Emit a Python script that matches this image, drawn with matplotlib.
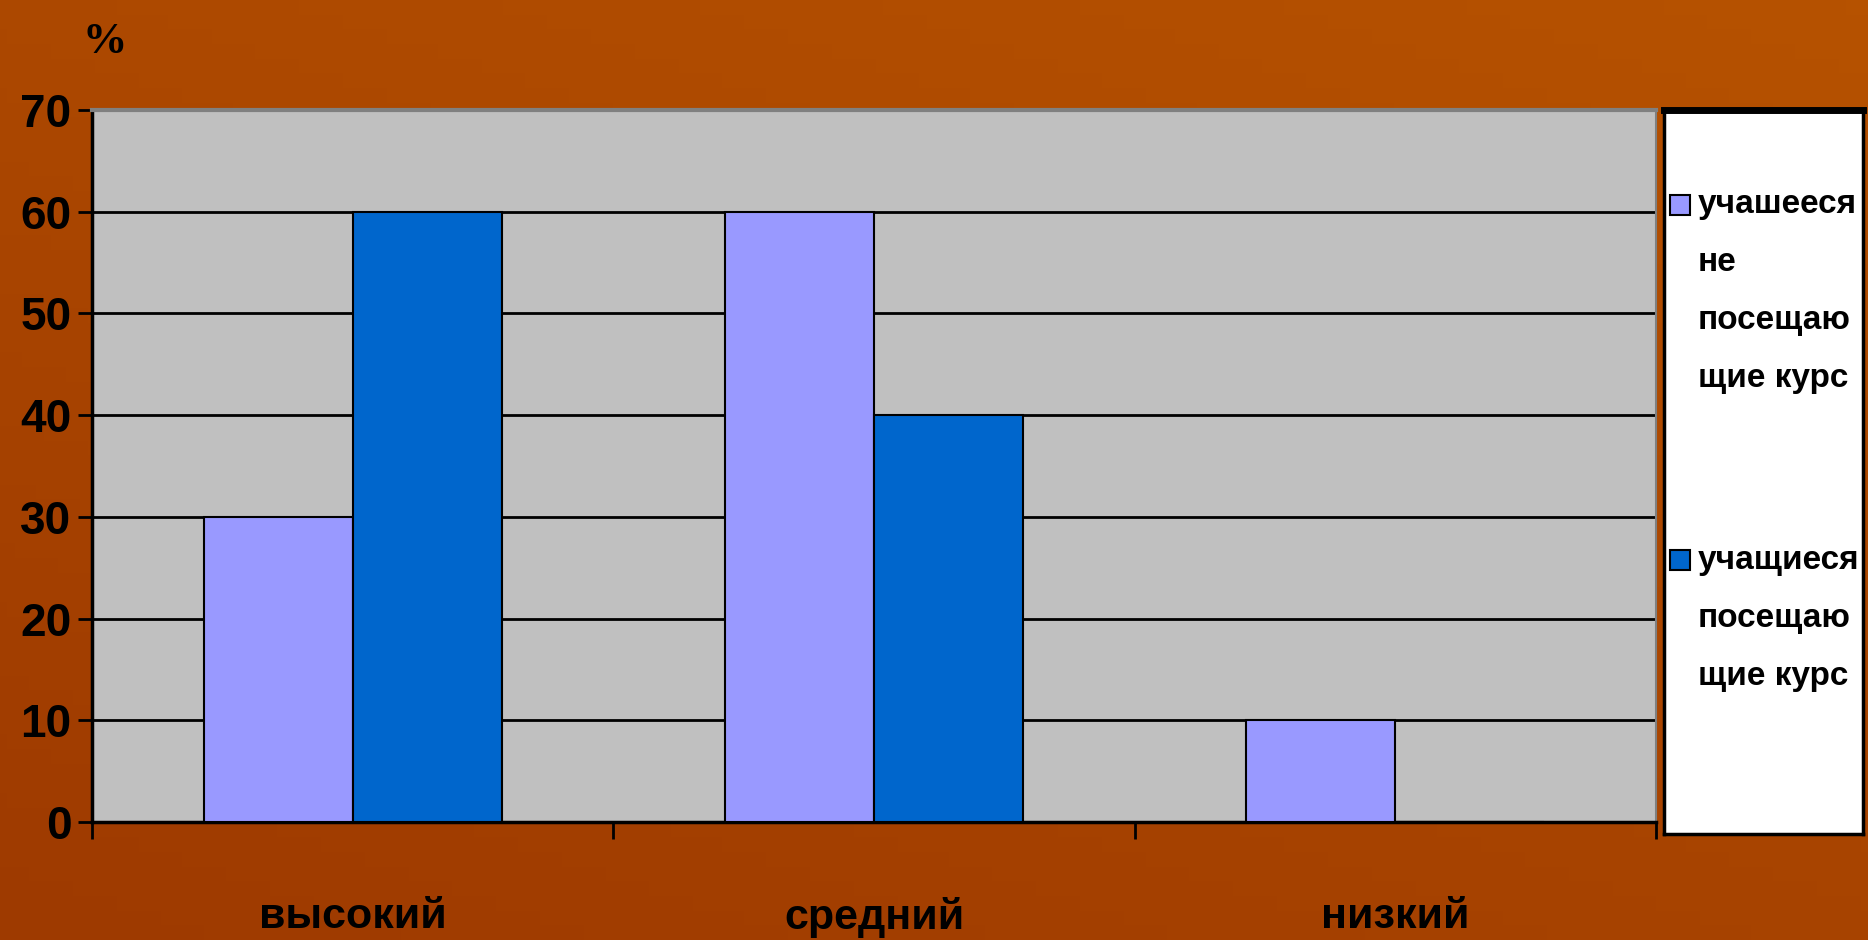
import numpy as np
import matplotlib
matplotlib.use('Agg')
import matplotlib.pyplot as plt
from matplotlib.patches import Rectangle

categories = ['высокий', 'средний', 'низкий']
not_attending = [30, 60, 10]
attending = [60, 40, 0]
series_names = ['учашееся\nне\nпосещаю\nщие курс', 'учащиеся\nпосещаю\nщие курс']
y_ticks = [0, 10, 20, 30, 40, 50, 60, 70]

light = '#9999FF'
dark = '#0066CC'
sans = ['Liberation Sans', 'DejaVu Sans']

fig = plt.figure(figsize=(18.68, 9.40), dpi=100)

# background of the slide
bg = fig.add_axes([0, 0, 1, 1], zorder=-10)
grad = np.linspace(0, 1, 256)
img = np.outer(np.ones(64), grad) * 0.4 + np.outer(np.linspace(1, 0, 64), np.ones(256)) * 0.6
cmap = matplotlib.colors.LinearSegmentedColormap.from_list('slide', ['#9E3A00', '#B65200'])
bg.imshow(img, cmap=cmap, aspect='auto', extent=[0, 1, 0, 1])
bg.axis('off')

ax = fig.add_axes([0.0493, 0.1255, 0.8372, 0.7575])
ax.set_facecolor('#C0C0C0')
x = np.arange(len(categories))
w = 1 / 3.5
ax.bar(x - w / 2, not_attending, w, color=light, edgecolor='black', linewidth=1.5, zorder=3)
ax.bar(x + w / 2, attending, w, color=dark, edgecolor='black', linewidth=1.5, zorder=3)

ax.set_xlim(-0.5, len(categories) - 0.5)
ax.set_ylim(0, 70)
ax.set_yticks(y_ticks)
ax.yaxis.grid(True, color='black', linewidth=2)
ax.set_axisbelow(True)

ax.set_xticks(x)
ax.set_xticklabels(categories, family=sans, fontweight='bold', fontsize=31)
ax.tick_params(axis='x', which='major', length=0, pad=54)
ax.set_xticks(np.arange(-0.5, len(categories)), minor=True)
ax.tick_params(axis='x', which='minor', length=12, width=2, direction='out')
ax.tick_params(axis='y', length=10, width=2, direction='out', pad=5)
for lab in ax.get_yticklabels():
    lab.set_family(sans)
    lab.set_fontweight('bold')
    lab.set_fontsize(33)

for s in ['left', 'bottom']:
    ax.spines[s].set_linewidth(2.5)
    ax.spines[s].set_color('black')
ax.spines['top'].set_color('#808080')
ax.spines['top'].set_linewidth(3)
ax.spines['right'].set_color('#808080')
ax.spines['right'].set_linewidth(1.5)

fig.text(0.056, 0.955, '%', family=['Liberation Serif', 'DejaVu Serif'], fontweight='bold',
         fontsize=32, va='center', ha='center')

# legend box
lg = fig.add_axes([0.8908, 0.1128, 0.1065, 0.7702])
lg.set_xlim(0, 1)
lg.set_ylim(0, 1)
lg.set_xticks([])
lg.set_yticks([])
lg.set_facecolor('white')
for s in lg.spines.values():
    s.set_linewidth(2.5)
    s.set_color('black')
lg.spines['top'].set_linewidth(5)

starts = [0.869, 0.378]
step = 0.08
for name, col, y0 in zip(series_names, [light, dark], starts):
    lg.add_patch(Rectangle((0.03, y0 - 0.014), 0.1, 0.028, facecolor=col,
                           edgecolor='black', linewidth=1.5, transform=lg.transAxes))
    for k, line in enumerate(name.split('\n')):
        lg.text(0.17, y0 - k * step, line, family=sans,
                fontweight='bold', fontsize=24, va='center', ha='left')

fig.savefig('out.png', dpi=100)
